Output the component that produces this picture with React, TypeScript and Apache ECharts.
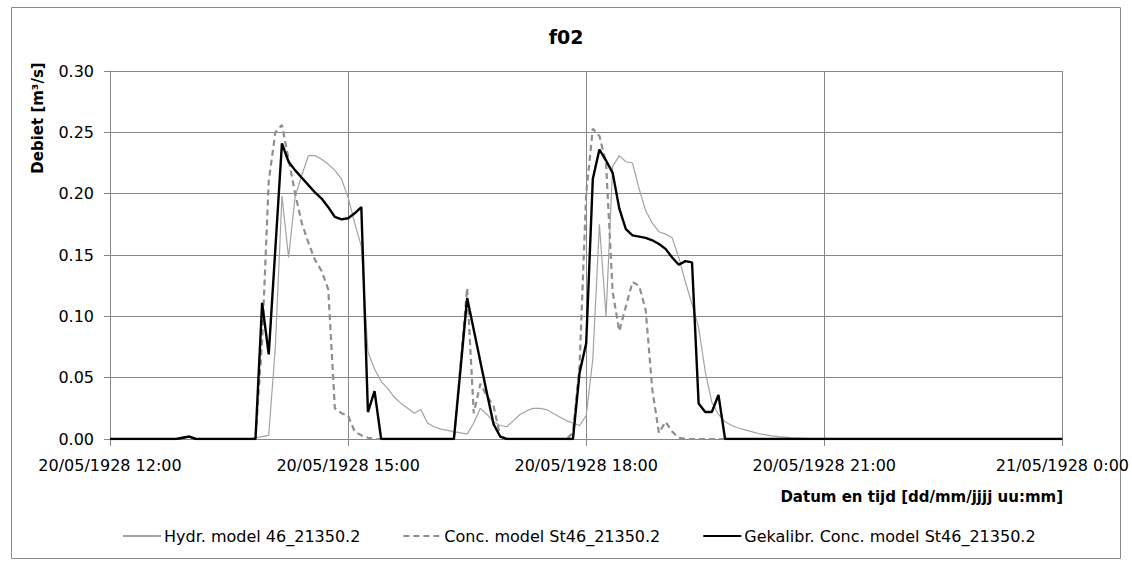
import React, { useEffect, useRef } from "react";
import * as echarts from "echarts";

// minutes after 20/05/1928 12:00, 5-minute steps (12:00 .. 24:00)
const stepMinutes = 5;

const hydrValues = [
  0, 0, 0, 0, 0, 0, 0, 0, 0, 0, 0, 0.001,
  0.002, 0, 0, 0, 0, 0, 0, 0, 0, 0, 0.001, 0.002,
  0.003, 0.075, 0.198, 0.148, 0.198, 0.215, 0.231, 0.231, 0.228, 0.224, 0.219, 0.212,
  0.197, 0.176, 0.157, 0.071, 0.057, 0.047, 0.041, 0.034, 0.029, 0.025, 0.021, 0.024,
  0.013, 0.01, 0.008, 0.007, 0.006, 0.005, 0.004, 0.013, 0.025, 0.02, 0.014, 0.011,
  0.01, 0.015, 0.02, 0.023, 0.025, 0.025, 0.024, 0.021, 0.018, 0.015, 0.013, 0.011,
  0.019, 0.065, 0.175, 0.1, 0.222, 0.231, 0.226, 0.225, 0.204, 0.186, 0.176, 0.169,
  0.167, 0.164, 0.148, 0.128, 0.11, 0.091, 0.055, 0.03, 0.02, 0.014, 0.011, 0.009,
  0.0075, 0.006, 0.0045, 0.0035, 0.0025, 0.002, 0.0015, 0.001, 0.0008, 0.0006, 0.0004, 0.0002,
  0.0001, 0, 0, 0, 0, 0, 0, 0, 0, 0, 0, 0,
  0, 0, 0, 0, 0, 0, 0, 0, 0, 0, 0, 0,
  0, 0, 0, 0, 0, 0, 0, 0, 0, 0, 0, 0,
  0,
];

const concValues = [
  0, 0, 0, 0, 0, 0, 0, 0, 0, 0, 0, 0.001,
  0.002, 0, 0, 0, 0, 0, 0, 0, 0, 0, 0, 0.08,
  0.21, 0.25, 0.256, 0.228, 0.2, 0.176, 0.16, 0.146, 0.137, 0.122, 0.025, 0.021,
  0.019, 0.006, 0.003, 0.001, 0, 0, 0, 0, 0, 0, 0, 0,
  0, 0, 0, 0, 0, 0.06, 0.123, 0.021, 0.045, 0.035, 0.027, 0.002,
  0, 0, 0, 0, 0, 0, 0, 0, 0, 0, 0.005, 0.06,
  0.2, 0.253, 0.247, 0.225, 0.12, 0.088, 0.108, 0.128, 0.125, 0.105, 0.04, 0.005,
  0.014, 0.006, 0.001, 0, 0, 0, 0, 0, 0, 0, 0, 0,
  0, 0, 0, 0, 0, 0, 0, 0, 0, 0, 0, 0,
  0, 0, 0, 0, 0, 0, 0, 0, 0, 0, 0, 0,
  0, 0, 0, 0, 0, 0, 0, 0, 0, 0, 0, 0,
  0, 0, 0, 0, 0, 0, 0, 0, 0, 0, 0, 0,
  0,
];

const gekalibrValues = [
  0, 0, 0, 0, 0, 0, 0, 0, 0, 0, 0, 0.001,
  0.002, 0, 0, 0, 0, 0, 0, 0, 0, 0, 0, 0.111,
  0.069, 0.155, 0.241, 0.226, 0.219, 0.213, 0.207, 0.201, 0.196, 0.189, 0.181, 0.179,
  0.18, 0.184, 0.189, 0.022, 0.039, 0, 0, 0, 0, 0, 0, 0,
  0, 0, 0, 0, 0, 0.057, 0.115, 0.089, 0.063, 0.037, 0.012, 0.002,
  0, 0, 0, 0, 0, 0, 0, 0, 0, 0, 0, 0.054,
  0.078, 0.212, 0.236, 0.227, 0.217, 0.188, 0.171, 0.166, 0.165, 0.164, 0.162, 0.159,
  0.155, 0.148, 0.142, 0.145, 0.144, 0.029, 0.022, 0.022, 0.036, 0, 0, 0,
  0, 0, 0, 0, 0, 0, 0, 0, 0, 0, 0, 0,
  0, 0, 0, 0, 0, 0, 0, 0, 0, 0, 0, 0,
  0, 0, 0, 0, 0, 0, 0, 0, 0, 0, 0, 0,
  0, 0, 0, 0, 0, 0, 0, 0, 0, 0, 0, 0,
  0,
];

const xTickLabels = [
  "20/05/1928 12:00",
  "20/05/1928 15:00",
  "20/05/1928 18:00",
  "20/05/1928 21:00",
  "21/05/1928 0:00",
];

const seriesNames = [
  "Hydr. model 46_21350.2",
  "Conc. model St46_21350.2",
  "Gekalibr. Conc. model St46_21350.2",
];

const FONT = "DejaVu Sans";

function toPairs(values: number[]) {
  return values.map((v, i) => [i * stepMinutes, v]);
}

export default function App() {
  const ref = useRef<HTMLDivElement>(null);
  useEffect(() => {
    if (!ref.current) return;
    const chart = echarts.init(ref.current, undefined, { renderer: "svg" });
    const gridColor = "#878787";
    chart.setOption({
      animation: false,
      backgroundColor: "#ffffff",
      title: {
        text: "f02",
        left: "center",
        top: 22,
        textStyle: { fontFamily: FONT, fontSize: 19, fontWeight: "bold", color: "#000" },
      },
      grid: { left: 110, right: 69, top: 71, bottom: 122 },
      legend: {
        left: 117,
        top: 523,
        itemWidth: 38,
        itemHeight: 12,
        itemGap: 42,
        itemStyle: { opacity: 0 },
        textStyle: { fontFamily: FONT, fontSize: 16, color: "#000", padding: [0, 0, 0, -2] },
        data: seriesNames,
      },
      xAxis: {
        type: "value",
        min: 0,
        max: 720,
        interval: 180,
        axisLine: { show: true, lineStyle: { color: gridColor, width: 1 } },
        axisTick: { show: true, length: 7, lineStyle: { color: gridColor } },
        splitLine: { show: true, lineStyle: { color: gridColor, width: 1 } },
        axisLabel: {
          margin: 18,
          fontFamily: FONT,
          fontSize: 16,
          color: "#000",
          formatter: (v: number) => xTickLabels[Math.round(v / 180)] ?? "",
        },
      },
      yAxis: {
        type: "value",
        min: 0,
        max: 0.3,
        interval: 0.05,
        axisLine: { show: true, lineStyle: { color: gridColor, width: 1 } },
        axisTick: { show: true, length: 6, lineStyle: { color: gridColor } },
        splitLine: { show: true, lineStyle: { color: gridColor, width: 1 } },
        axisLabel: {
          margin: 16,
          fontFamily: FONT,
          fontSize: 16,
          color: "#000",
          formatter: (v: number) => v.toFixed(2),
        },
      },
      graphic: [
        {
          type: "rect",
          shape: { x: 11.5, y: 7.5, width: 1109, height: 551 },
          style: { fill: "none", stroke: "#8a8a8a", lineWidth: 1 },
          silent: true,
        },
        {
          type: "text",
          x: 38,
          y: 118,
          rotation: Math.PI / 2,
          style: {
            text: "Debiet [m³/s]",
            fontFamily: FONT,
            fontSize: 15,
            fontWeight: "bold",
            fill: "#000",
            textAlign: "center",
            textVerticalAlign: "middle",
          },
        },
        {
          type: "text",
          x: 1063,
          y: 497,
          style: {
            text: "Datum en tijd [dd/mm/jjjj uu:mm]",
            fontFamily: FONT,
            fontSize: 15,
            fontWeight: "bold",
            fill: "#000",
            textAlign: "right",
            textVerticalAlign: "middle",
          },
        },
      ],
      series: [
        {
          name: seriesNames[0],
          type: "line",
          data: toPairs(hydrValues),
          symbol: "none",
          lineStyle: { color: "#a3a3a3", width: 1.2 },
          itemStyle: { color: "#a3a3a3" },
          z: 2,
        },
        {
          name: seriesNames[1],
          type: "line",
          data: toPairs(concValues),
          symbol: "none",
          lineStyle: { color: "#8f8f8f", width: 2.2, type: [6, 4] },
          itemStyle: { color: "#8f8f8f" },
          z: 3,
        },
        {
          name: seriesNames[2],
          type: "line",
          data: toPairs(gekalibrValues),
          symbol: "none",
          lineStyle: { color: "#000000", width: 2.4 },
          itemStyle: { color: "#000000" },
          z: 4,
        },
      ],
    });
    return () => chart.dispose();
  }, []);
  return (
    <div
      ref={ref}
      style={{ position: "absolute", left: 0, top: 0, width: 1132, height: 561 }}
    />
  );
}
